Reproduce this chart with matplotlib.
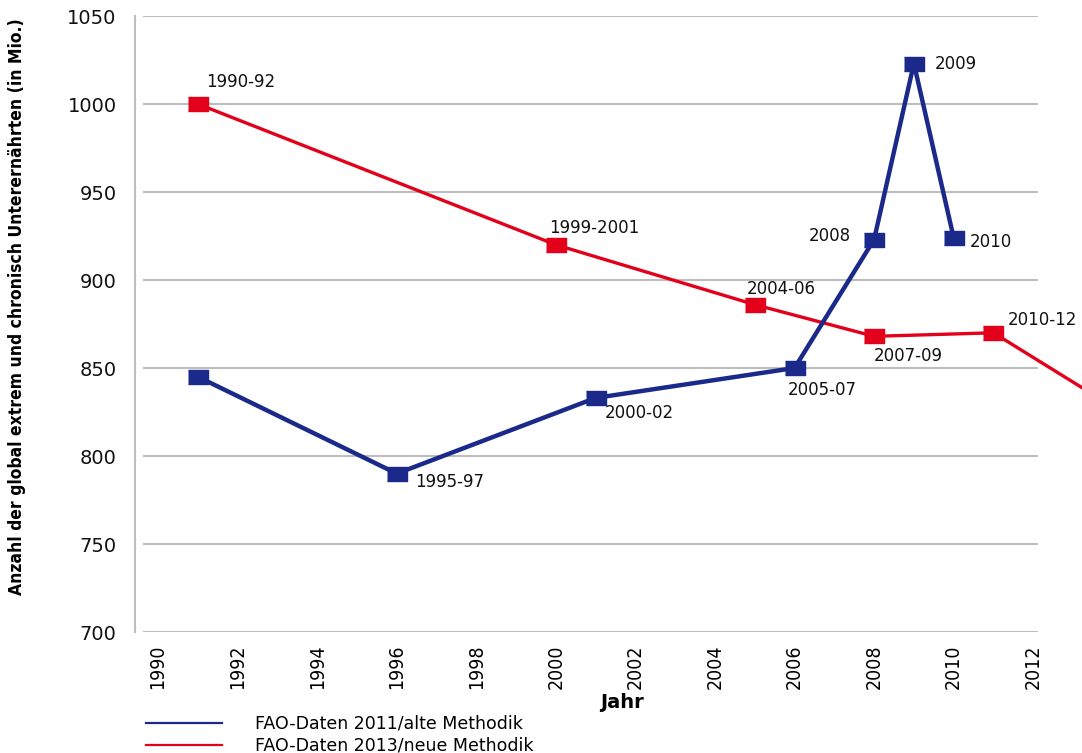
import matplotlib
matplotlib.use("Agg")
import matplotlib.pyplot as plt

# FAO-Daten 2011 / alte Methodik
alt_jahre = [1991, 1996, 2001, 2006, 2008, 2009, 2010]
alt_werte = [845, 790, 833, 850, 923, 1023, 924]
alt_labels = ["", "1995-97", "2000-02", "2005-07", "2008", "2009", "2010"]

# FAO-Daten 2013 / neue Methodik (letzter Punkt liegt ausserhalb des Achsenbereichs)
neu_jahre = [1991, 2000, 2005, 2008, 2011, 2014]
neu_werte = [1000, 920, 886, 868, 870, 828]
neu_labels = ["1990-92", "1999-2001", "2004-06", "2007-09", "2010-12", ""]

y_ticks = [700, 750, 800, 850, 900, 950, 1000, 1050]
x_ticks = list(range(1990, 2013, 2))

blau = "#1b2a8a"
rot = "#e2001a"
grau = "#bdbdbd"

# Versatz der Beschriftungen in Pixeln
alt_offsets = [(0, 0), (18, 8), (9, 15), (-7, 22), (-23, -4), (21, 0), (16, 4)]
alt_ha = ["left", "left", "left", "left", "right", "left", "left"]
neu_offsets = [(8, -22), (-7, -17), (-8, -16), (0, 20), (14, -13), (0, 0)]

fig = plt.figure(figsize=(10.82, 7.53), dpi=100)
ax = fig.add_axes([143 / 1082, 121 / 753, 895 / 1082, 616 / 753])

rect = [(-1, -0.7), (1, -0.7), (1, 0.7), (-1, 0.7)]

ax.plot(alt_jahre, alt_werte, color=blau, lw=3.2, marker=rect, ms=15,
        mec=blau, mfc=blau, zorder=4, label="FAO-Daten 2011/alte Methodik")
ax.plot(neu_jahre, neu_werte, color=rot, lw=2.4, marker=rect, ms=15,
        mec=rot, mfc=rot, zorder=3, clip_on=False, label="FAO-Daten 2013/neue Methodik")

txt = dict(fontsize=12, color="#111111", va="center", textcoords="offset pixels")
for x, y, s, off, ha in zip(alt_jahre, alt_werte, alt_labels, alt_offsets, alt_ha):
    if s:
        ax.annotate(s, (x, y), xytext=(off[0], -off[1]), ha=ha, **txt)
for x, y, s, off in zip(neu_jahre, neu_werte, neu_labels, neu_offsets):
    if s:
        ax.annotate(s, (x, y), xytext=(off[0], -off[1]), ha="left", **txt)

ax.set_xlim(1989.62, 2012.12)
ax.set_ylim(700, 1050)
ax.set_yticks(y_ticks)
ax.set_xticks(x_ticks)
ax.set_xticklabels([str(t) for t in x_ticks], rotation=90, fontsize=14,
                   family="DejaVu Sans", stretch="condensed")
ax.tick_params(axis="x", length=0, pad=9)
ax.tick_params(axis="y", length=0, pad=13, labelsize=14, labelcolor="#111111")
ax.yaxis.grid(True, color=grau, lw=1.5)
ax.set_axisbelow(True)
for side in ["top", "right", "bottom"]:
    ax.spines[side].set_visible(False)
ax.spines["left"].set_color(grau)
ax.spines["left"].set_linewidth(1.5)
ax.spines["left"].set_position(("outward", 6))

fig.text(622 / 1082, 1 - 703 / 753, "Jahr", ha="center", va="center",
         fontsize=14, fontweight="bold")
fig.text(17 / 1082, 1 - 307 / 753,
         "Anzahl der global extrem und chronisch Unterernährten (in Mio.)",
         rotation=90, ha="center", va="center", fontsize=12.5, fontweight="bold",
         family="DejaVu Sans", stretch="condensed")

leg = fig.legend(loc="upper left", bbox_to_anchor=(130 / 1082, 1 - 699 / 753),
                 frameon=False, fontsize=12.5, handlelength=4.4, handletextpad=1.9,
                 labelspacing=0.25)
for h in leg.legend_handles:
    h.set_marker("")
    h.set_linewidth(1.6)

fig.savefig("out.png", dpi=100)
